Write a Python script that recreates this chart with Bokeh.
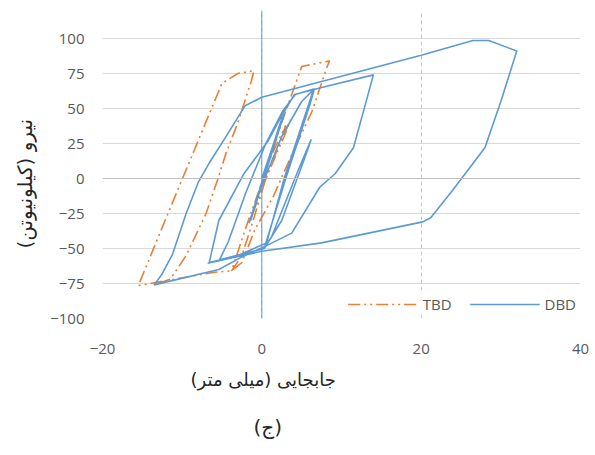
from bokeh.plotting import figure
from bokeh.models import Span, FixedTicker, Range1d, Title
from bokeh.embed import file_html
from bokeh.resources import INLINE

# ---- data (displacement mm, force kN) ----
dbd_x = [0, 2.6, 2.1, -1.6, -1.0, 2.8, 2.3, -1.4,
         -0.5, 2.5, 5.0, 6.6, 6.1, 3.0, 0.4,
         1.2, 4.5, 6.2, 5.6, 2.5, 0.3, -2.5, -5.3,
         -4.2, -2.0, 0.5, 2.6, 4.2, 6.5, 6.0, 2.8, 0.6, -3.0, -6.6,
         -5.4, -2.3, 0.8, 2.5, 4.1, 7.5, 14.0,
         12.9, 11.5, 9.2, 7.25, 3.75, 0.2, -2.5, -5.4, -13.5,
         -12.5, -11.2, -9.5, -8.0, -6.5, -4.6, -2.1, 0.0, 10.0, 20.0, 26.5, 28.5, 32.0,
         30.0, 28.0, 24.0, 21.2, 20.2, 7.5, 0.0, -6.8]
dbd_y = [0, 44, 36, -32, -22, 46, 38, -30,
         -12, 30, 55, 64, 54, 0, -48,
         -42, 5, 28, 18, -30, -50, -54, -58,
         -45, -10, 25, 48, 60, 64, 55, 0, -46, -55, -60,
         -30, 3, 27, 45, 60, 65, 74,
         51, 22, 3.4, -6.4, -39, -49, -56, -65, -76,
         -68, -54, -25, -3, 12, 29, 52, 58, 73, 88, 98.6, 98.6, 91,
         55, 22, -8, -28, -31, -46, -52, -60.5]

tbd_x = [0, 1.5, 3.0, 2.3, 0.2, -1.5, -0.6, 1.5, 3.6, 2.8, 0.5, -1.2, -2.5, -3.8,
         -2.0, 0.5, 2.5, 5.0, 8.5,
         8.2, 6.3, 4.0, 1.5, -0.9, -2.5, -3.8, -6.0, -15.5,
         -12.0, -8.5, -5.0, -3.0, -1.0,
         -1.3, -3.0, -4.5, -5.5, -7.0, -9.5, -11.5, -13.5]
tbd_y = [0, 20, 38, 26, -5, -30, -15, 15, 42, 30, 0, -32, -55, -66,
         -35, 5, 40, 80, 84,
         80, 48, 20, -12, -37, -60, -66, -67, -76.5,
         -28, 20, 68, 75, 77,
         70, 40, 18, 0, -25, -55, -72, -76]

x_ticks = [-20, 0, 20, 40]
y_ticks = [-100, -75, -50, -25, 0, 25, 50, 75, 100]

x_label = "جابجایی (میلی متر)"
y_label = "نیرو (کیلونیوتن)"
caption = "(ج)"

BLUE = "#5B9BD5"
ORANGE = "#ED7D31"
TXT = "#595959"
DARK = "#262626"

p = figure(width=595, height=455, output_backend="svg", toolbar_location=None,
           x_range=Range1d(-20, 40), y_range=Range1d(-100, 120),
           min_border_left=100, min_border_right=15, min_border_top=10,
           min_border_bottom=137)
p.outline_line_color = None
p.background_fill_color = "white"

# grid
p.ygrid.grid_line_color = "#D9D9D9"
p.ygrid.grid_line_width = 1
p.xgrid.grid_line_color = "#C8C8C8"
p.xgrid.grid_line_dash = "4 3"
p.xgrid.grid_line_width = 1

p.xaxis.ticker = FixedTicker(ticks=x_ticks)
p.yaxis.ticker = FixedTicker(ticks=y_ticks)
for ax in (p.xaxis, p.yaxis):
    ax.axis_line_color = None
    ax.major_tick_line_color = None
    ax.minor_tick_line_color = None
    ax.major_label_text_font = "Open Sans"
    ax.major_label_text_font_size = "15px"
    ax.major_label_text_color = TXT
p.xaxis.major_label_standoff = 19
p.yaxis.major_label_standoff = 12

p.add_layout(Span(location=0, dimension="width", line_color="#BFBFBF", line_width=1))
p.add_layout(Span(location=0, dimension="height", line_color=BLUE, line_width=1))

p.line(tbd_x, tbd_y, line_color=ORANGE, line_width=1.6, line_dash="12 4 2 4 2 4",
       legend_label="TBD")
p.line(dbd_x, dbd_y, line_color=BLUE, line_width=1.6, legend_label="DBD")

lg = p.legend[0]
lg.orientation = "horizontal"
lg.location = "bottom_right"
lg.glyph_width = 70
lg.spacing = 18
lg.margin = 4
lg.padding = 4
lg.border_line_color = None
lg.background_fill_alpha = 1
lg.label_text_font = "Open Sans"
lg.label_text_font_size = "15px"
lg.label_text_color = TXT

tx = Title(text=x_label, align="left", offset=88, text_font="DejaVu Sans",
           text_font_size="18px", text_font_style="normal", text_color=DARK,
           standoff=21)
p.add_layout(tx, "below")
tc = Title(text=caption, align="left", offset=151, text_font="DejaVu Sans",
           text_font_size="20px", text_font_style="normal", text_color=DARK,
           standoff=24)
p.add_layout(tc, "below")
ty = Title(text=y_label, align="left", offset=70, text_font="DejaVu Sans",
           text_font_size="20px", text_font_style="normal", text_color=DARK,
           standoff=21)
p.add_layout(ty, "left")

open("out.html", "w").write(file_html(p, INLINE))
